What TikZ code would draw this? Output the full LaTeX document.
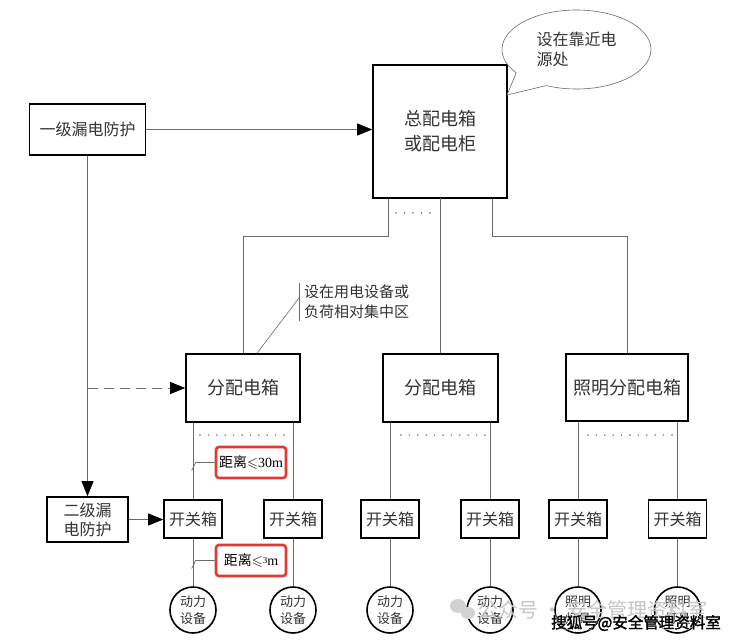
\documentclass[tikz,border=0pt]{standalone}
\usepackage{amssymb}
\usepackage{fontspec}
\setmainfont{Liberation Serif}
\newfontfamily\cjk{Noto Sans CJK SC}
\newfontfamily\wmfont[FakeBold=2]{Noto Sans CJK SC}
\newfontfamily\wmhalo[FakeBold=7]{Noto Sans CJK SC}
\usetikzlibrary{arrows.meta,shapes.geometric,shapes.callouts}
\definecolor{ink}{HTML}{333333}
\definecolor{wire}{HTML}{6A6A6A}
\definecolor{alert}{HTML}{DF3B30}

\begin{document}
\begin{tikzpicture}[x=1pt, y=-1pt,
    box/.style={draw=black, line width=1.6pt, fill=white, text=ink, align=center, inner sep=0pt,
        font=\cjk\fontsize{18}{25}\selectfont},
    smallbox/.style={box, font=\cjk\fontsize{16}{19}\selectfont},
    swbox/.style={box, minimum width=58pt, minimum height=38pt, font=\cjk\fontsize{16}{19}\selectfont},
    device/.style={circle, draw=black, line width=1.6pt, fill=white, minimum size=46pt, inner sep=0pt,
        text=ink, align=center, font=\cjk\fontsize{13}{17}\selectfont},
    alertbox/.style={draw=alert, line width=2.6pt, rounded corners=3pt, fill=white, text=black,
        minimum width=70pt, minimum height=31pt, inner sep=0pt, font=\cjk\fontsize{14}{16}\selectfont},
    notetext/.style={text=ink, align=left, font=\cjk\fontsize{15}{20}\selectfont},
    wire/.style={draw=wire, line width=0.8pt},
    arrow/.style={wire, -{Triangle[length=15pt, width=12pt, color=black]}},
    gapdot/.style={fill=wire}
]
    % Page
    \useasboundingbox (0,0) rectangle (734,641);
    \fill[white] (0,0) rectangle (734,641);

    % Main box and leakage protection
    \node[box, minimum width=134pt, minimum height=133pt] (main) at (440,131.5) {总配电箱\\或配电柜};
    \node[smallbox, minimum width=116pt, minimum height=51pt] (prot1) at (87.5,129.5) {一级漏电防护};
    \node[smallbox, minimum width=81pt, minimum height=45pt] (prot2) at (87.5,519.5) {二级漏\\电防护};

    % Callout
    \coordinate (tip) at (507,95);
    \node[ellipse callout, draw=wire, line width=0.6pt, fill=white, text=ink, align=left,
        minimum width=149pt, minimum height=79pt, inner sep=0pt, callout absolute pointer={(tip)},
        callout pointer arc=30, font=\cjk\fontsize{16}{20}\selectfont] (bubble) at (576.5,49.5) {设在靠近电\\源处};

    % Distribution boxes
    \node[box, minimum width=114pt, minimum height=68pt] (d1) at (243,388) {分配电箱};
    \node[box, minimum width=115pt, minimum height=68pt] (d2) at (440.5,388) {分配电箱};
    \node[box, minimum width=122pt, minimum height=67pt] (d3) at (627,387.5) {照明分配电箱};

    % Note on d1
    \node[notetext, anchor=west, inner xsep=5pt, inner ysep=2pt] (note) at (299,302) {设在用电设备或\\负荷相对集中区};
    \draw[wire, line width=0.6pt] (note.north west) -- (note.south west);
    \draw[wire, line width=0.6pt] ([yshift=4pt]note.west) -- ([xshift=14pt]d1.north);

    % Wires from main box
    \draw[wire] ([xshift=-52pt]main.south) -- ++(0,38) -| (d1.north);
    \draw[wire] (main.south) -- (main.south -| d2.north) -- (d2.north);
    \draw[wire] ([xshift=52pt]main.south) -- ++(0,38) -| (d3.north);
    \foreach \i in {0,...,4}
        \fill[gapdot] (396+\i*8.5,213) circle (0.9pt);

    % Switch boxes and devices
    \foreach \x/\n/\d/\t in {193/1/d1/{动力\\设备}, 293/2/d1/{动力\\设备},
                             390/3/d2/{动力\\设备}, 490/4/d2/{动力\\设备},
                             578/5/d3/{照明\\灯具}, 677.5/6/d3/{照明\\灯具}} {
        \node[swbox] (sw\n) at (\x,519) {开关箱};
        \node[device] (dev\n) at (\x,610) {\t};
        \draw[wire] (\d.south -| sw\n.north) -- (sw\n.north);
        \draw[wire] (sw\n.south) -- (dev\n.north);
    }
    \foreach \x in {200,401,588}
        \foreach \i in {0,...,10}
            \fill[gapdot] (\x+\i*8.4,435) circle (0.8pt);

    % Arrows
    \draw[arrow] (prot1.east) -- (prot1.east -| main.west);
    \draw[arrow] (prot1.south) -- (prot2.north);
    \draw[arrow, dash pattern=on 10pt off 6pt] (prot1.south |- d1.west) -- (d1.west);
    \draw[arrow] (prot2.east) -- (prot2.east -| sw1.west);

    % Distance limits
    \node[alertbox] (lim1) at (251,462.5) {距离$\leqslant${\rmfamily 30m}};
    \node[alertbox] (lim2) at (251,560.5) {距离$\leqslant${\rmfamily\raisebox{2pt}{\small 3}m}};
    \draw[wire, line width=0.6pt] (lim1.west) -- ++(-19,0) -- ++(-4,8);
    \draw[wire, line width=0.6pt] (lim2.west) -- ++(-19,0) -- ++(-4,8);

    % Watermark
    \fill[gray!35] (458,606) ellipse (8pt and 7pt);
    \fill[gray!35] (468,613) ellipse (7pt and 6pt);
    \node[anchor=west, text=gray!45, inner sep=0pt, font=\cjk\fontsize{20}{20}\selectfont] (wm1) at (478,610) {公众号 · 安全管理资料室};
    \node[anchor=west, text=white, inner sep=0pt, font=\wmhalo\fontsize{15.5}{16}\selectfont] (wm2) at (551,623) {搜狐号@安全管理资料室};
    \node[anchor=west, text=black, inner sep=0pt, font=\wmfont\fontsize{15.5}{16}\selectfont] (wm3) at (551,623) {搜狐号@安全管理资料室};
\end{tikzpicture}
\end{document}
